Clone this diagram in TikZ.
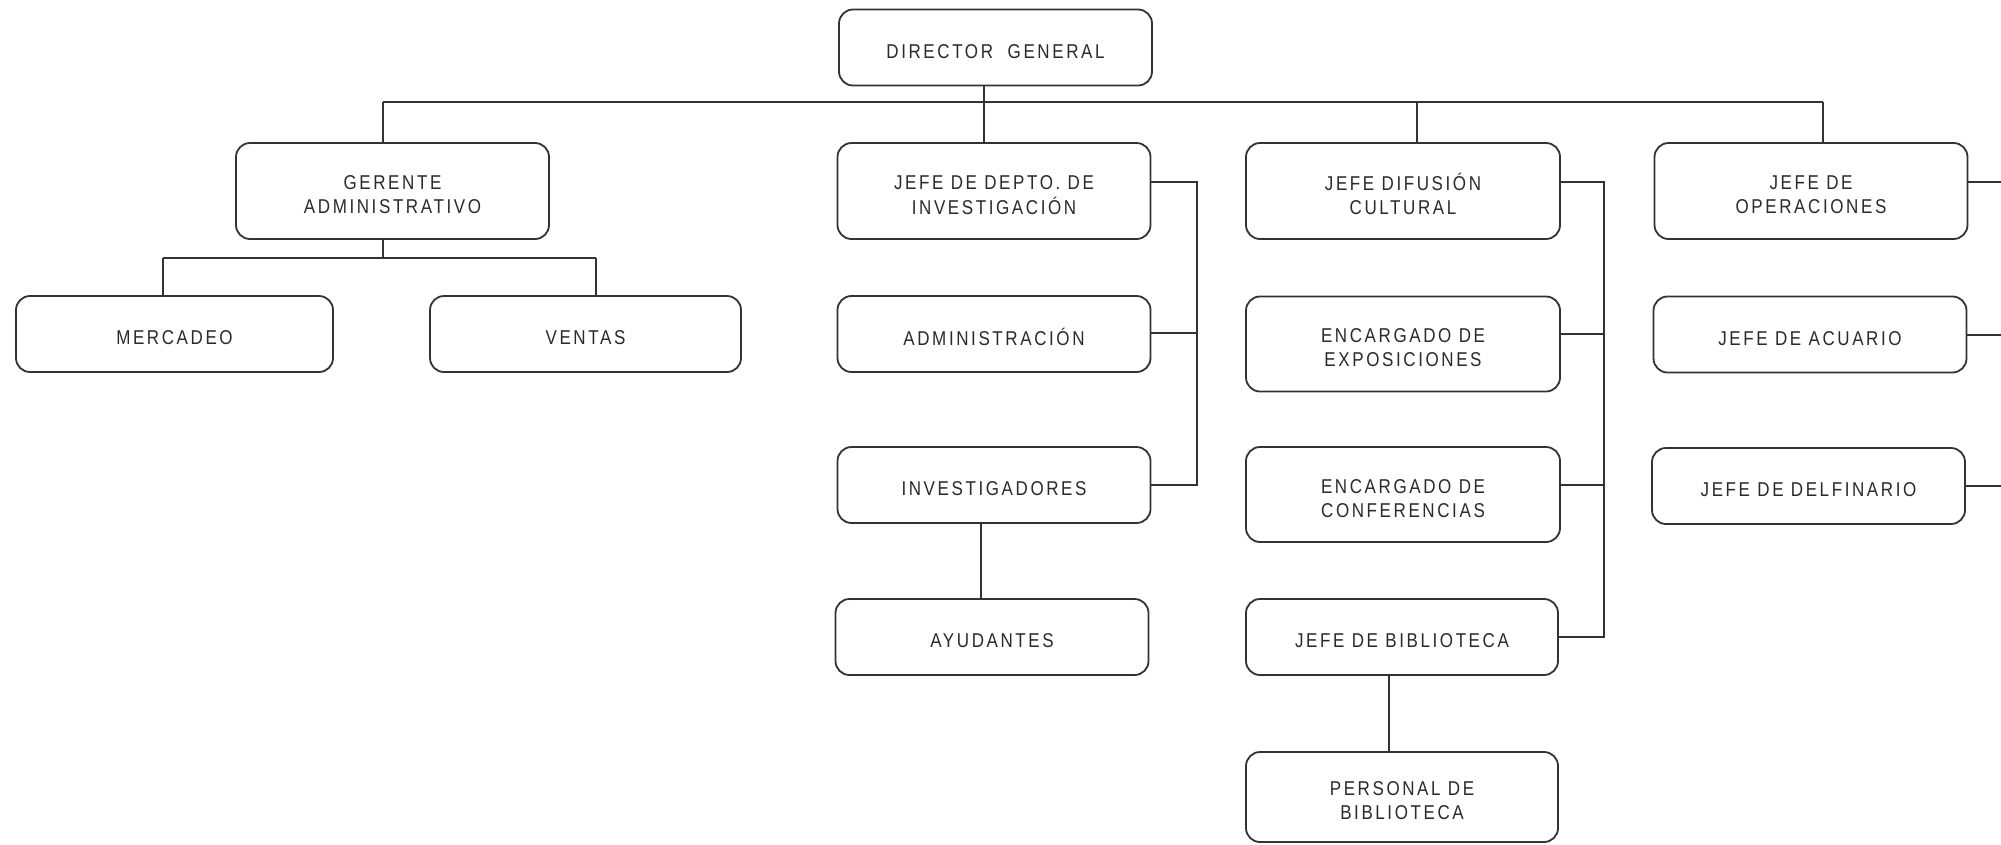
\documentclass[tikz,border=0pt]{standalone}
\usepackage{fontspec}
\setmainfont{Liberation Sans}[FakeStretch=0.85, LetterSpace=13]
\definecolor{linec}{HTML}{333333}
\definecolor{textc}{HTML}{2A2A2A}
\newcommand\bt[1]{\raisebox{-6pt}[\height][\depth]{\begin{tabular}{@{}c@{}}#1\end{tabular}}}
\begin{document}
\begin{tikzpicture}[x=1pt,y=-1pt,
  box/.style={draw=linec, line width=1.8pt, rounded corners=14pt, minimum width=313pt, minimum height=76pt, font=\fontsize{20}{24}\selectfont, text=textc, inner sep=0pt},
  conn/.style={draw=linec, line width=1.6pt}]
\useasboundingbox (0,0) rectangle (2001,844);
\fill[white] (0,0) rectangle (2001,844);

\node[box] (dg) at (995.5,47.5) {\bt{DIRECTOR\ \ GENERAL}};
\node[box, minimum height=96pt] (ga) at (392.5,191) {\bt{GERENTE\\ADMINISTRATIVO}};
\node[box, minimum width=317pt] (me) at (174.5,334) {\bt{MERCADEO}};
\node[box, minimum width=311pt] (ve) at (585.5,334) {\bt{VENTAS}};
\node[box, minimum height=96pt] (jd) at (994,191) {\bt{JEFE DE DEPTO. DE\\INVESTIGACIÓN}};
\node[box] (ad) at (994,334) {\bt{ADMINISTRACIÓN}};
\node[box] (inv) at (994,485) {\bt{INVESTIGADORES}};
\node[box] (ay) at (992,637) {\bt{AYUDANTES}};
\node[box, minimum width=314pt, minimum height=96pt] (jf) at (1403,191) {\bt{JEFE DIFUSIÓN\\CULTURAL}};
\node[box, minimum width=314pt, minimum height=95pt] (ex) at (1403,344) {\bt{ENCARGADO DE\\EXPOSICIONES}};
\node[box, minimum width=314pt, minimum height=95pt] (co) at (1403,494.5) {\bt{ENCARGADO DE\\CONFERENCIAS}};
\node[box, minimum width=312pt] (jb) at (1402,637) {\bt{JEFE DE BIBLIOTECA}};
\node[box, minimum width=312pt, minimum height=90pt] (pb) at (1402,797) {\bt{PERSONAL DE\\BIBLIOTECA}};
\node[box, minimum height=96pt] (jo) at (1811,191) {\bt{JEFE DE\\OPERACIONES}};
\node[box] (ja) at (1810,334.5) {\bt{JEFE DE ACUARIO}};
\node[box] (jdl) at (1808.5,486) {\bt{JEFE DE DELFINARIO}};

% main bus
\coordinate (b0) at (984,102);
\coordinate (bl) at (383,102);
\coordinate (br) at (1823,102);
\coordinate (bdf) at (1417,102);
\draw[conn] (dg.south -| b0) -- (b0);
\draw[conn] (bl) -- (br);
\draw[conn] (bl) -- (ga.north -| bl);
\draw[conn] (b0) -- (jd.north -| b0);
\draw[conn] (bdf) -- (jf.north -| bdf);
\draw[conn] (br) -- (jo.north -| br);

% gerente
\coordinate (gs) at (383,258);
\coordinate (gl) at (163,258);
\coordinate (gr) at (596,258);
\draw[conn] (ga.south -| gs) -- (gs);
\draw[conn] (gl) -- (gr);
\draw[conn] (gl) -- (me.north -| gl);
\draw[conn] (gr) -- (ve.north -| gr);

% investigacion
\coordinate (r1) at (1197,182);
\coordinate (r2) at (1197,333);
\coordinate (r3) at (1197,485);
\draw[conn] (jd.east |- r1) -- (r1) -- (r3) -- (inv.east |- r3);
\draw[conn] (ad.east |- r2) -- (r2);
\coordinate (ax) at (981,560);
\draw[conn] (inv.south -| ax) -- (ay.north -| ax);

% difusion
\coordinate (d1) at (1604,182);
\coordinate (d2) at (1604,334);
\coordinate (d3) at (1604,485);
\coordinate (d4) at (1604,637);
\draw[conn] (jf.east |- d1) -- (d1) -- (d4) -- (jb.east |- d4);
\draw[conn] (ex.east |- d2) -- (d2);
\draw[conn] (co.east |- d3) -- (d3);
\coordinate (px) at (1389,700);
\draw[conn] (jb.south -| px) -- (pb.north -| px);

% operaciones
\coordinate (e1) at (2001,182);
\coordinate (e2) at (2001,335);
\coordinate (e3) at (2001,486);
\draw[conn] (jo.east |- e1) -- (e1);
\draw[conn] (ja.east |- e2) -- (e2);
\draw[conn] (jdl.east |- e3) -- (e3);
\end{tikzpicture}
\end{document}
